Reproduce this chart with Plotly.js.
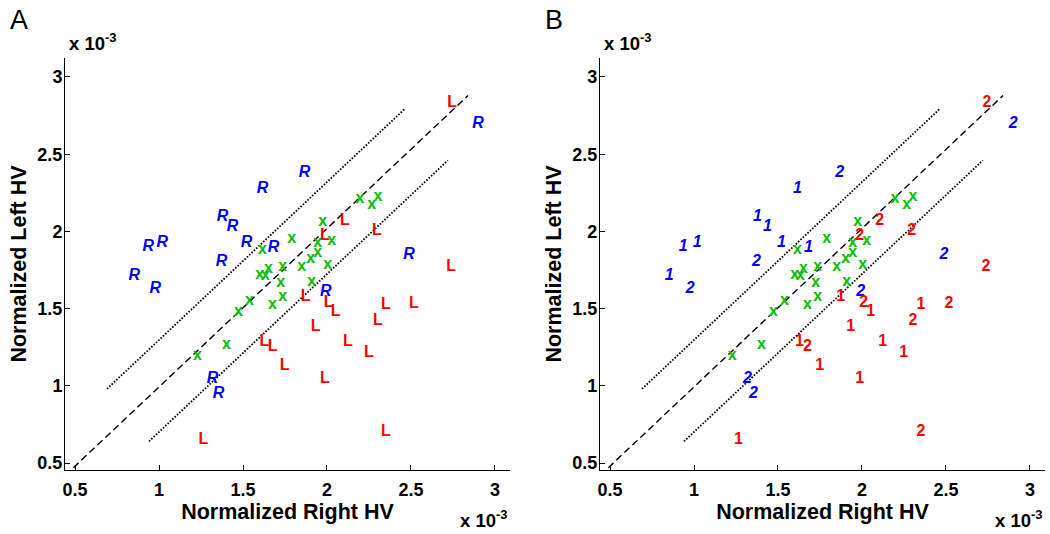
<!DOCTYPE html>
<html>
<head>
<meta charset="utf-8">
<script src="https://cdn.plot.ly/plotly-3.0.1.min.js"></script>
<style>html,body{margin:0;padding:0;background:#fff;} #chart{width:1050px;height:534px;}</style>
</head>
<body>
<div id="chart"></div>
<script>
// values in units of 1e-3
const tickVals = [0.5, 1, 1.5, 2, 2.5, 3];
const tickText = ["0.5", "1", "1.5", "2", "2.5", "3"];

// green "x" points (symmetric)
const symX = [1.228,1.401,1.473,1.539,1.599,1.634,1.652,1.616,1.676,1.724,1.736,1.736,1.790,1.849,1.903,1.945,1.945,1.909,2.004,1.975,2.028,2.196,2.267,2.303];
const symY = [1.192,1.263,1.477,1.548,1.716,1.710,1.755,1.878,1.522,1.664,1.574,1.768,1.949,1.768,1.820,1.858,1.923,1.671,1.781,2.059,1.936,2.208,2.169,2.221];

// blue "R" points
const rX = [0.852,0.978,0.936,1.019,1.372,1.378,1.437,1.521,1.616,1.682,1.867,1.318,1.354,1.993,2.488,2.900];
const rY = [1.710,1.625,1.897,1.923,1.800,2.091,2.027,1.923,2.272,1.891,2.376,1.043,0.946,1.606,1.845,2.693];
const rGroup = ["1","2","1","1","2","1","1","1","1","1","2","2","2","2","2","2"];

// red "L" points
const lX = [2.745,2.106,1.987,2.297,2.739,1.873,2.010,2.052,2.351,2.518,2.303,1.933,2.124,2.249,1.628,1.676,1.748,1.987,2.351,1.264];
const lY = [2.829,2.065,1.968,2.001,1.768,1.574,1.535,1.477,1.522,1.528,1.418,1.380,1.283,1.211,1.283,1.250,1.127,1.043,0.701,0.649];
const lGroup = ["2","2","2","2","2","1","2","1","1","2","2","1","1","1","1","2","1","1","2","1"];

// reference lines
const diagX = [0.49, 2.84];
const diagY = [0.47, 2.88];
const upperX = [0.69, 2.46];
const upperY = [0.98, 2.79];
const lowerX = [0.94, 2.72];
const lowerY = [0.64, 2.46];

const FONT = "Liberation Sans, Arial, Helvetica, sans-serif";
const GREEN = "rgb(0,190,0)";

function panel(xa, ya, rLabels, lLabels) {
  return [
    {x: diagX, y: diagY, xaxis: xa, yaxis: ya, mode: "lines", line: {color: "black", width: 1.4, dash: "7px,4px"}, hoverinfo: "skip"},
    {x: upperX, y: upperY, xaxis: xa, yaxis: ya, mode: "lines", line: {color: "black", width: 1.8, dash: "1.6px,1.6px"}, hoverinfo: "skip"},
    {x: lowerX, y: lowerY, xaxis: xa, yaxis: ya, mode: "lines", line: {color: "black", width: 1.8, dash: "1.6px,1.6px"}, hoverinfo: "skip"},
    {x: symX, y: symY, xaxis: xa, yaxis: ya, mode: "text", text: symX.map(() => "x"), textposition: "middle center",
     textfont: {family: FONT, size: 16, color: GREEN, weight: "bold"}},
    {x: rX, y: rY, xaxis: xa, yaxis: ya, mode: "text", text: rLabels, textposition: "middle center",
     textfont: {family: FONT, size: 16, color: "rgb(0,0,255)", weight: "bold", style: "italic"}},
    {x: lX, y: lY, xaxis: xa, yaxis: ya, mode: "text", text: lLabels, textposition: "middle center",
     textfont: {family: FONT, size: 16, color: "rgb(255,0,0)", weight: "bold"}}
  ];
}

const data = [
  ...panel("x", "y", rX.map(() => "R"), lX.map(() => "L")),
  ...panel("x2", "y2", rGroup, lGroup)
];

const XR = [0.44, 3.09];
const YR = [0.455, 3.123];
const titleFont = {family: FONT, size: 21.5, color: "black", weight: "bold"};
const tickFont = {family: FONT, size: 18, color: "black", weight: "bold"};

function xaxis(domain, anchor) {
  return {
    domain: domain, anchor: anchor, range: XR, showgrid: false, zeroline: false,
    showline: true, linecolor: "black", linewidth: 1, mirror: false,
    ticks: "inside", ticklen: 5, tickcolor: "black", tickwidth: 1,
    tickvals: tickVals, ticktext: tickText, tickfont: tickFont, ticklabelstandoff: 3,
    title: {text: "Normalized Right HV", font: titleFont, standoff: 2}
  };
}
function yaxis(anchor) {
  return {
    domain: [0, 1], anchor: anchor, range: YR, showgrid: false, zeroline: false,
    showline: true, linecolor: "black", linewidth: 1, mirror: false,
    ticks: "inside", ticklen: 5, tickcolor: "black", tickwidth: 1,
    tickvals: tickVals, ticktext: tickText, tickfont: tickFont, ticklabelstandoff: -2,
    title: {text: "Normalized Left HV", font: titleFont, standoff: 4}
  };
}

const expFont = {family: FONT, size: 18.5, color: "black", weight: "bold"};
const layout = {
  width: 1050, height: 534,
  margin: {l: 65, r: 5, t: 58, b: 64},
  paper_bgcolor: "white", plot_bgcolor: "white",
  showlegend: false,
  xaxis: xaxis([0, 0.4541], "y"),
  yaxis: yaxis("x"),
  xaxis2: xaxis([0.5459, 1], "y2"),
  yaxis2: yaxis("x2"),
  annotations: [
    {text: "A", xref: "paper", yref: "paper", x: -0.058, y: 1.092, xanchor: "left", yanchor: "middle", showarrow: false, font: {family: FONT, size: 27, color: "black"}},
    {text: "B", xref: "paper", yref: "paper", x: 0.488, y: 1.092, xanchor: "left", yanchor: "middle", showarrow: false, font: {family: FONT, size: 27, color: "black"}},
    {text: "x 10<sup>-3</sup>", xref: "paper", yref: "paper", x: 0.002, y: 1.04, xanchor: "left", yanchor: "middle", showarrow: false, font: expFont},
    {text: "x 10<sup>-3</sup>", xref: "paper", yref: "paper", x: 0.548, y: 1.04, xanchor: "left", yanchor: "middle", showarrow: false, font: expFont},
    {text: "x 10<sup>-3</sup>", xref: "paper", yref: "paper", x: 0.4541, y: -0.118, xanchor: "right", yanchor: "middle", showarrow: false, font: expFont},
    {text: "x 10<sup>-3</sup>", xref: "paper", yref: "paper", x: 1.0, y: -0.118, xanchor: "right", yanchor: "middle", showarrow: false, font: expFont}
  ]
};

Plotly.newPlot("chart", data, layout, {staticPlot: true, displayModeBar: false});
</script>
</body>
</html>
